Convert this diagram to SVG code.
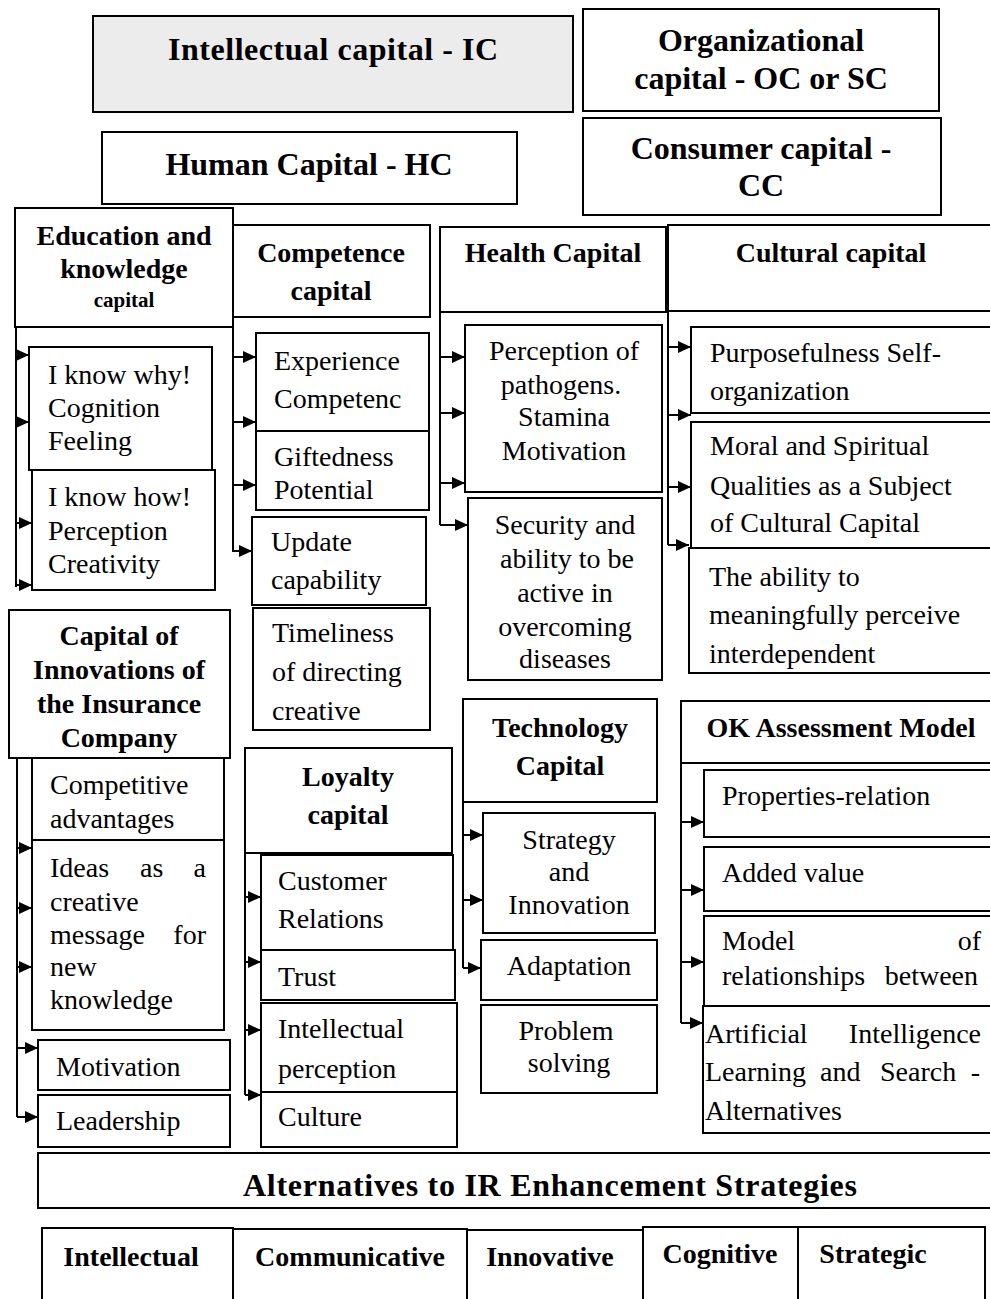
<svg xmlns="http://www.w3.org/2000/svg" width="990" height="1299" viewBox="0 0 990 1299">
<style>
.b{fill:#fff;stroke:#000;stroke-width:2}
.g{fill:#ececec;stroke:#000;stroke-width:2}
text{font-family:"Liberation Serif","Times New Roman",serif;fill:#000}
.h{font-weight:bold;font-size:28px;text-anchor:middle}
.H{font-weight:bold;font-size:32px;text-anchor:middle}
.t{font-size:28px}
.c{text-anchor:middle}
.e{text-anchor:end}
.k{fill:none;stroke:#000;stroke-width:2}
</style>
<defs>
<marker id="ar" markerUnits="userSpaceOnUse" markerWidth="13" markerHeight="12" refX="13" refY="6" orient="auto">
<path d="M0,0 L13,6 L0,12 z" fill="#000"/>
</marker>
</defs>

<g id="ic"><rect class="g" x="93" y="16" width="480" height="96"/><text class="H" x="333" y="60" textLength="330" lengthAdjust="spacing">Intellectual capital - IC</text></g>
<g id="hc"><rect class="b" x="102" y="132" width="415" height="72"/><text class="H" x="309" y="175">Human Capital - HC</text></g>
<g id="oc"><rect class="b" x="583" y="9" width="356" height="102"/><text class="H" x="761" y="51">Organizational</text><text class="H" x="761" y="89">capital - OC or SC</text></g>
<g id="cc"><rect class="b" x="583" y="118" width="358" height="97"/><text class="H" x="761" y="159">Consumer capital -</text><text class="H" x="761" y="196">CC</text></g>

<g id="edu"><rect class="b" x="15" y="208" width="218" height="119"/><text class="h" x="124" y="245">Education and</text><text class="h" x="124" y="278">knowledge</text><text class="h" x="124" y="307" style="font-size:21px">capital</text></g>
<g id="why"><rect class="b" x="29" y="347" width="183" height="123"/><text class="t" x="48" y="384">I know why!</text><text class="t" x="48" y="417">Cognition</text><text class="t" x="48" y="450">Feeling</text></g>
<g id="how"><rect class="b" x="32" y="470" width="183" height="120"/><text class="t" x="48" y="506">I know how!</text><text class="t" x="48" y="540">Perception</text><text class="t" x="48" y="573">Creativity</text></g>

<g id="comp"><rect class="b" x="233" y="225" width="197" height="92"/><text class="h" x="331" y="262">Competence</text><text class="h" x="331" y="300">capital</text></g>
<g id="exp"><rect class="b" x="256" y="333" width="173" height="98"/><text class="t" x="274" y="370">Experience</text><text class="t" x="274" y="408">Competenc</text></g>
<g id="gift"><rect class="b" x="256" y="431" width="173" height="79"/><text class="t" x="274" y="466">Giftedness</text><text class="t" x="274" y="499">Potential</text></g>
<g id="upd"><rect class="b" x="252" y="517" width="174" height="88"/><text class="t" x="271" y="551">Update</text><text class="t" x="271" y="589">capability</text></g>
<g id="time"><rect class="b" x="253" y="608" width="177" height="122"/><text class="t" x="272" y="642">Timeliness</text><text class="t" x="272" y="681">of directing</text><text class="t" x="272" y="720">creative</text></g>

<g id="health"><rect class="b" x="440" y="227" width="226" height="85"/><text class="h" x="553" y="262">Health Capital</text></g>
<g id="path"><rect class="b" x="465" y="325" width="197" height="167"/><text class="t c" x="564" y="360">Perception of</text><text class="t c" x="561" y="394">pathogens.</text><text class="t c" x="564" y="426">Stamina</text><text class="t c" x="564" y="460">Motivation</text></g>
<g id="sec"><rect class="b" x="468" y="498" width="194" height="182"/><text class="t c" x="565" y="534">Security and</text><text class="t c" x="567" y="568">ability to be</text><text class="t c" x="565" y="602">active in</text><text class="t c" x="565" y="636">overcoming</text><text class="t c" x="565" y="668">diseases</text></g>

<g id="cult"><rect class="b" x="668" y="225" width="340" height="86"/><text class="h" x="831" y="262">Cultural capital</text></g>
<g id="purp"><rect class="b" x="691" y="327" width="320" height="86"/><text class="t" x="710" y="362">Purposefulness Self-</text><text class="t" x="710" y="400">organization</text></g>
<g id="moral"><rect class="b" x="691" y="422" width="320" height="126"/><text class="t" x="710" y="455">Moral and Spiritual</text><text class="t" x="710" y="495">Qualities as a Subject</text><text class="t" x="710" y="532">of Cultural Capital</text></g>
<g id="abil"><rect class="b" x="689" y="548" width="320" height="125"/><text class="t" x="709" y="586">The ability to</text><text class="t" x="709" y="624">meaningfully perceive</text><text class="t" x="709" y="663">interdependent</text></g>

<g id="innov"><rect class="b" x="9" y="610" width="221" height="148"/><text class="h" x="119" y="645">Capital of</text><text class="h" x="119" y="679">Innovations of</text><text class="h" x="119" y="713">the Insurance</text><text class="h" x="119" y="747">Company</text></g>
<g id="compadv"><rect class="b" x="32" y="758" width="192" height="82"/><text class="t" x="50" y="794">Competitive</text><text class="t" x="50" y="828">advantages</text></g>
<g id="ideas"><rect class="b" x="32" y="840" width="192" height="190"/><text class="t" x="50" y="877">Ideas</text><text class="t" x="140" y="877">as</text><text class="t e" x="206" y="877">a</text><text class="t" x="50" y="911">creative</text><text class="t" x="50" y="944">message</text><text class="t e" x="206" y="944">for</text><text class="t" x="50" y="976">new</text><text class="t" x="50" y="1009">knowledge</text></g>
<g id="motiv"><rect class="b" x="38" y="1040" width="192" height="50"/><text class="t" x="56" y="1076">Motivation</text></g>
<g id="lead"><rect class="b" x="38" y="1095" width="192" height="52"/><text class="t" x="56" y="1130">Leadership</text></g>

<g id="loyal"><rect class="b" x="245" y="748" width="207" height="105"/><text class="h" x="348" y="786">Loyalty</text><text class="h" x="348" y="824">capital</text></g>
<g id="cust"><rect class="b" x="261" y="855" width="192" height="95"/><text class="t" x="278" y="890">Customer</text><text class="t" x="278" y="928">Relations</text></g>
<g id="trust"><rect class="b" x="261" y="950" width="194" height="50"/><text class="t" x="278" y="986">Trust</text></g>
<g id="intper"><rect class="b" x="261" y="1003" width="196" height="89"/><text class="t" x="278" y="1038">Intellectual</text><text class="t" x="278" y="1078">perception</text></g>
<g id="cultr"><rect class="b" x="261" y="1092" width="196" height="55"/><text class="t" x="278" y="1126">Culture</text></g>

<g id="tech"><rect class="b" x="463" y="699" width="194" height="103"/><text class="h" x="560" y="737">Technology</text><text class="h" x="560" y="775">Capital</text></g>
<g id="strat"><rect class="b" x="483" y="813" width="172" height="120"/><text class="t c" x="569" y="849">Strategy</text><text class="t c" x="569" y="881">and</text><text class="t c" x="569" y="914">Innovation</text></g>
<g id="adapt"><rect class="b" x="481" y="940" width="176" height="60"/><text class="t c" x="569" y="975">Adaptation</text></g>
<g id="prob"><rect class="b" x="481" y="1005" width="176" height="88"/><text class="t c" x="566" y="1040">Problem</text><text class="t c" x="569" y="1072">solving</text></g>

<g id="okm"><rect class="b" x="681" y="701" width="330" height="62"/><text class="h" x="841" y="737">OK Assessment Model</text></g>
<g id="prop"><rect class="b" x="704" y="770" width="310" height="67"/><text class="t" x="722" y="805">Properties-relation</text></g>
<g id="added"><rect class="b" x="704" y="847" width="310" height="64"/><text class="t" x="722" y="882">Added value</text></g>
<g id="model"><rect class="b" x="704" y="916" width="310" height="90"/><text class="t" x="722" y="950">Model</text><text class="t e" x="981" y="950">of</text><text class="t" x="722" y="985">relationships</text><text class="t e" x="978" y="985">between</text></g>
<g id="ai"><rect class="b" x="703" y="1006" width="310" height="127"/><text class="t" x="705" y="1043">Artificial</text><text class="t e" x="981" y="1043">Intelligence</text><text class="t" x="705" y="1081">Learning</text><text class="t" x="820" y="1081">and</text><text class="t" x="880" y="1081">Search</text><text class="t e" x="980" y="1081">-</text><text class="t" x="705" y="1120">Alternatives</text></g>

<g id="alt"><rect class="b" x="38" y="1153" width="970" height="55"/><text class="H" x="550" y="1196" textLength="614" lengthAdjust="spacing">Alternatives to IR Enhancement Strategies</text></g>
<g id="s-int"><rect class="b" x="42" y="1228" width="191" height="80"/><text class="h" x="131" y="1266">Intellectual</text></g>
<g id="s-com"><rect class="b" x="233" y="1229" width="234" height="80"/><text class="h" x="350" y="1266">Communicative</text></g>
<g id="s-inn"><rect class="b" x="467" y="1230" width="176" height="80"/><text class="h" x="550" y="1266">Innovative</text></g>
<g id="s-cog"><rect class="b" x="643" y="1227" width="155" height="80"/><text class="h" x="720" y="1263">Cognitive</text></g>
<g id="s-str"><rect class="b" x="798" y="1227" width="187" height="80"/><text class="h" x="873" y="1263">Strategic</text></g>

<g id="connectors" class="k">
<path d="M16,327 V587"/>
<path d="M16,355 H29" marker-end="url(#ar)"/><path d="M16,422 H29" marker-end="url(#ar)"/><path d="M16,523 H32" marker-end="url(#ar)"/><path d="M16,585 H32" marker-end="url(#ar)"/>
<path d="M233,317 V552"/>
<path d="M233,357 H256" marker-end="url(#ar)"/><path d="M233,422 H256" marker-end="url(#ar)"/><path d="M233,485 H256" marker-end="url(#ar)"/><path d="M233,551 H252" marker-end="url(#ar)"/>
<path d="M440,312 V525"/>
<path d="M440,357 H465" marker-end="url(#ar)"/><path d="M440,413 H465" marker-end="url(#ar)"/><path d="M440,483 H465" marker-end="url(#ar)"/><path d="M440,525 H468" marker-end="url(#ar)"/>
<path d="M668,311 V545"/>
<path d="M668,347 H691" marker-end="url(#ar)"/><path d="M668,415 H691" marker-end="url(#ar)"/><path d="M668,487 H691" marker-end="url(#ar)"/><path d="M668,545 H689" marker-end="url(#ar)"/>
<path d="M17,758 V1117"/>
<path d="M17,848 H32" marker-end="url(#ar)"/><path d="M17,908 H32" marker-end="url(#ar)"/><path d="M17,967 H32" marker-end="url(#ar)"/><path d="M17,1048 H38" marker-end="url(#ar)"/><path d="M17,1117 H38" marker-end="url(#ar)"/>
<path d="M245,853 V1095"/>
<path d="M245,897 H261" marker-end="url(#ar)"/><path d="M245,962 H261" marker-end="url(#ar)"/><path d="M245,1030 H261" marker-end="url(#ar)"/><path d="M245,1095 H261" marker-end="url(#ar)"/>
<path d="M463,802 V968"/>
<path d="M463,835 H483" marker-end="url(#ar)"/><path d="M463,900 H483" marker-end="url(#ar)"/><path d="M463,968 H481" marker-end="url(#ar)"/>
<path d="M681,763 V1023"/>
<path d="M681,822 H704" marker-end="url(#ar)"/><path d="M681,890 H704" marker-end="url(#ar)"/><path d="M681,962 H704" marker-end="url(#ar)"/><path d="M681,1023 H703" marker-end="url(#ar)"/>
</g>
</svg>
